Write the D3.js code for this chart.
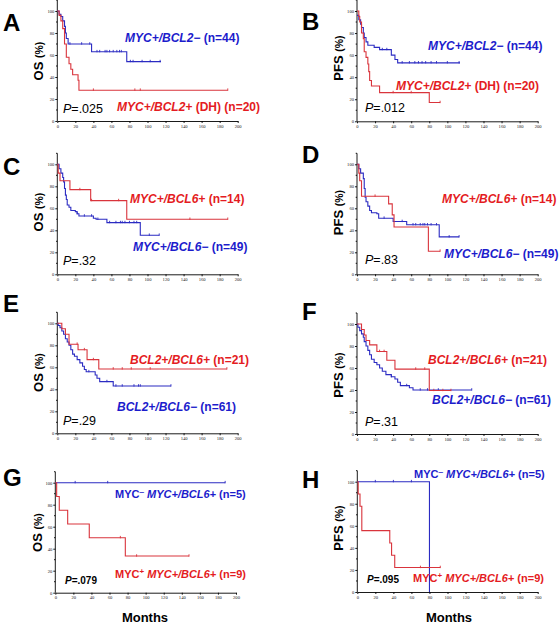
<!DOCTYPE html>
<html><head><meta charset="utf-8">
<script src="https://cdn.jsdelivr.net/npm/d3@7"></script>
<style>body{margin:0;background:#fff}svg{display:block}</style>
</head><body><svg id="c" width="559" height="624"></svg>
<script>
// ---------- tick labels ----------
const monthTicks = d3.range(0, 201, 20);
const pctTicks = [0, 20, 40, 60, 80, 100];
const pctMinor = [10, 30, 50, 70, 90, 110];

// ---------- series: [month, survival %] steps, end month, censor months ----------
const A_blue = [[0,100],[2,97],[4,95],[6,91],[8,86],[9,80],[10,75],[12,70],[38,63],[77,54]];
const A_blue_end = 115;
const A_blue_cens = [14,27,36,44,47,53,55,58,62,66,69,71,81,84,94,103,114];
const A_red = [[0,100],[2,96],[4,91],[6,84],[8,70],[10,58],[13,52],[15,47],[17,42],[23,37],[24,28]];
const A_red_end = 189;
const A_red_cens = [40,86,92,189];

const B_blue = [[0,96],[2,92],[4,88],[5,85],[7,80],[8,76],[10,72],[12,69],[19,67],[25,65],[38,60],[42,56],[45,53]];
const B_blue_end = 114;
const B_blue_cens = [28,33,50,58,64,68,72,76,82,88,100,113];
const B_red = [[0,100],[2,95],[3,90],[5,80],[7,75],[8,63],[10,58],[12,52],[13,45],[14,37],[16,32],[25,26],[80,17]];
const B_red_end = 92;
const B_red_cens = [40,60,92];

const C_red = [[0,100],[1,92],[3,85],[14,77],[37,67],[77,50]];
const C_red_end = 189;
const C_red_cens = [25,38,68,147,189];
const C_blue = [[0,100],[2,96],[4,92],[6,88],[7,84],[8,78],[9,72],[10,68],[11,63],[13,61],[15,58],[20,57],[22,55],[24,53],[40,51],[43,50],[55,47],[92,35.5]];
const C_blue_end = 113;
const C_blue_cens = [22,30,38,45,58,65,70,72,75,80,85,88,102,113];

const D_red = [[0,100],[2,92],[3,85],[5,71],[35,64],[39,54],[41,43],[79,21]];
const D_red_end = 92;
const D_red_cens = [20,92];
const D_blue = [[0,100],[2,96],[4,92],[7,87],[8,78],[9,70],[10,66],[12,62],[14,58],[16,56],[22,55],[24,51],[40,48],[55,45],[91,34]];
const D_blue_end = 113;
const D_blue_cens = [30,50,62,65,70,73,75,78,82,88,102,113];

const E_red = [[0,100],[5,95],[9,90],[13,81],[23,76],[33,67],[46,58.5]];
const E_red_end = 188;
const E_red_cens = [22,30,40,62,72,82,103,188];
const E_blue = [[0,100],[1,98],[3,96],[5,93],[7,90],[9,86],[11,83],[13,80],[15,76],[17,72],[19,70],[22,67],[25,64],[28,61],[30,58],[32,56],[42,53],[44,50],[47,47],[62,43]];
const E_blue_end = 126;
const E_blue_cens = [35,55,65,72,85,90,92,126];

const F_red = [[0,100],[5,95],[8,90],[10,85],[14,81],[22,75],[33,67],[42,59],[80,39.5]];
const F_red_end = 104;
const F_red_cens = [25,30,65,75,85,95,104];
const F_blue = [[0,100],[1,97],[3,94],[5,91],[7,88],[8,84],[10,80],[12,76],[14,72],[16,68],[19,65],[22,63],[25,60],[28,57],[32,54],[38,52],[42,50],[45,47],[48,44],[58,42],[62,40]];
const F_blue_end = 127;
const F_blue_cens = [38,55,70,78,90,127];

const G_blue = [[0,100]];
const G_blue_end = 188;
const G_blue_cens = [22,58,188];
const G_red = [[0,100],[1.5,87.5],[4.4,75],[13.7,62.5],[37.6,50],[77.5,33.3]];
const G_red_end = 148;
const G_red_cens = [72,90,148];

const H_blue = [[0,100],[80,0]];
const H_blue_end = 80;
const H_blue_cens = [20,40,60];
const H_red = [[0,100],[1,88.9],[3,77.8],[5,55.6],[36,44.4],[38,33.3],[41.5,22.2]];
const H_red_end = 92;
const H_red_cens = [70,92];

// ---------- colours ----------
const BLUE_LINE = "#2b2bc2", RED_LINE = "#d9343c";
const BLUE_TXT = "#1c1ccc", RED_TXT = "#e41b22";

// ---------- layout ----------
const panels = [
  {letter:"A", lx:3, ly:31, px:[57.3,237.7], py:[121,11], yt:"OS", ytx:43, yty:61,
   curves:[[A_blue,A_blue_end,A_blue_cens,BLUE_LINE],[A_red,A_red_end,A_red_cens,RED_LINE]],
   labels:[{x:125,y:42,c:BLUE_TXT,parts:[["MYC+/BCL2\u2212","i"],[" (n=44)",""]]},
           {x:117,y:111,c:RED_TXT,parts:[["MYC+/BCL2+","i"],[" (DH) (n=20)",""]]}],
   p:{x:63,y:113,t:"=.025"}},
  {letter:"B", lx:302, ly:30, px:[357,537.7], py:[121.3,11], yt:"PFS", ytx:343, yty:58,
   curves:[[B_blue,B_blue_end,B_blue_cens,BLUE_LINE],[B_red,B_red_end,B_red_cens,RED_LINE]],
   labels:[{x:428,y:50,c:BLUE_TXT,parts:[["MYC+/BCL2\u2212","i"],[" (n=44)",""]]},
           {x:396,y:90,c:RED_TXT,parts:[["MYC+/BCL2+","i"],[" (DH) (n=20)",""]]}],
   p:{x:365,y:112,t:"=.012"}},
  {letter:"C", lx:3, ly:175, px:[57.3,237.7], py:[274.3,164.3], yt:"OS", ytx:43, yty:212,
   curves:[[C_blue,C_blue_end,C_blue_cens,BLUE_LINE],[C_red,C_red_end,C_red_cens,RED_LINE]],
   labels:[{x:130,y:203,c:RED_TXT,parts:[["MYC+/BCL6+","i"],[" (n=14)",""]]},
           {x:133,y:251,c:BLUE_TXT,parts:[["MYC+/BCL6\u2212","i"],[" (n=49)",""]]}],
   p:{x:63,y:265,t:"=.32"}},
  {letter:"D", lx:302, ly:163, px:[357,537.7], py:[274.3,164.3], yt:"PFS", ytx:343, yty:212.5,
   curves:[[D_blue,D_blue_end,D_blue_cens,BLUE_LINE],[D_red,D_red_end,D_red_cens,RED_LINE]],
   labels:[{x:442,y:203,c:RED_TXT,parts:[["MYC+/BCL6+","i"],[" (n=14)",""]]},
           {x:444,y:258,c:BLUE_TXT,parts:[["MYC+/BCL6\u2212","i"],[" (n=49)",""]]}],
   p:{x:365,y:264,t:"=.83"}},
  {letter:"E", lx:3, ly:312, px:[57.3,237.7], py:[433.3,323.3], yt:"OS", ytx:43, yty:372.5,
   curves:[[E_blue,E_blue_end,E_blue_cens,BLUE_LINE],[E_red,E_red_end,E_red_cens,RED_LINE]],
   labels:[{x:130,y:364,c:RED_TXT,parts:[["BCL2+/BCL6+","i"],[" (n=21)",""]]},
           {x:117,y:411,c:BLUE_TXT,parts:[["BCL2+/BCL6\u2212","i"],[" (n=61)",""]]}],
   p:{x:63,y:425,t:"=.29"}},
  {letter:"F", lx:302, ly:320, px:[357,537.7], py:[434,324], yt:"PFS", ytx:343, yty:375,
   curves:[[F_blue,F_blue_end,F_blue_cens,BLUE_LINE],[F_red,F_red_end,F_red_cens,RED_LINE]],
   labels:[{x:428,y:364,c:RED_TXT,parts:[["BCL2+/BCL6+","i"],[" (n=21)",""]]},
           {x:432,y:404,c:BLUE_TXT,parts:[["BCL2+/BCL6\u2212","i"],[" (n=61)",""]]}],
   p:{x:365,y:426,t:"=.31"}},
  {letter:"G", lx:3, ly:486, px:[55.3,236], py:[592.7,482.7], yt:"OS", ytx:41.5, yty:532.5, months:145,
   curves:[[G_blue,G_blue_end,G_blue_cens,BLUE_LINE],[G_red,G_red_end,G_red_cens,RED_LINE]],
   labels:[{x:115,y:498,c:BLUE_TXT,small:true,sup:"\u2012",parts:[["MYC",""],["SUP",""],[" MYC+/BCL6+","i"],[" (n=5)",""]]},
           {x:115,y:578,c:RED_TXT,small:true,sup:"+",parts:[["MYC",""],["SUP",""],[" MYC+/BCL6+","i"],[" (n=9)",""]]}],
   p:{x:65,y:584,t:"=.079",small:true}},
  {letter:"H", lx:302, ly:488, px:[357.3,537.7], py:[592,481.7], yt:"PFS", ytx:343, yty:528, months:449,
   curves:[[H_blue,H_blue_end,H_blue_cens,BLUE_LINE],[H_red,H_red_end,H_red_cens,RED_LINE]],
   labels:[{x:414,y:478,c:BLUE_TXT,small:true,sup:"\u2012",parts:[["MYC",""],["SUP",""],[" MYC+/BCL6+","i"],[" (n=5)",""]]},
           {x:413,y:582,c:RED_TXT,small:true,sup:"+",parts:[["MYC",""],["SUP",""],[" MYC+/BCL6+","i"],[" (n=9)",""]]}],
   p:{x:367,y:583,t:"=.095",small:true}}
];

const svg = d3.select("#c");
const FONT = "'Liberation Sans', Arial, sans-serif";

function survAt(steps, t){
  let v = steps[0][1];
  for (const s of steps) if (s[0] <= t) v = s[1];
  return v;
}

panels.forEach(P => {
  const x = d3.scaleLinear().domain([0,200]).range(P.px);
  const y = d3.scaleLinear().domain([0,100]).range(P.py);
  const g = svg.append("g");

  // letter
  g.append("text").attr("x",P.lx).attr("y",P.ly).text(P.letter)
    .attr("font-family",FONT).attr("font-weight","bold").attr("font-size",24).attr("fill","#000");

  // axes
  const xa = g.append("g").attr("transform",`translate(0,${y(0)})`)
    .call(d3.axisBottom(x).tickValues(monthTicks).tickSize(2).tickSizeOuter(0).tickPadding(1.5));
  const ya = g.append("g").attr("transform",`translate(${x(0)},0)`)
    .call(d3.axisLeft(y).tickValues(pctTicks).tickSize(2).tickSizeOuter(0).tickPadding(1));
  ya.select(".domain").attr("d",`M0,${y(0)}V${y(110)}`);
  ya.selectAll(".minor").data(pctMinor).enter().append("line").attr("class","minor")
    .attr("x1",-1.3).attr("x2",0).attr("y1",d=>y(d)).attr("y2",d=>y(d)).attr("stroke","#000").attr("stroke-width",0.8);
  [xa,ya].forEach(a=>{
    a.selectAll("path,line").attr("stroke","#000").attr("stroke-width",0.9);
    a.selectAll("text").attr("font-family","'Liberation Serif', serif").attr("font-size",4.6).attr("fill","#222");
  });

  // y title
  const yt = g.append("text").attr("transform",`translate(${P.ytx},${P.yty}) rotate(-90)`)
    .attr("text-anchor","middle").attr("font-family",FONT).attr("font-weight","bold").attr("fill","#000");
  yt.append("tspan").attr("font-size",13).text(P.yt + " ");
  yt.append("tspan").attr("font-size",10.5).text("(%)");

  if (P.months) {
    g.append("text").attr("x",P.months).attr("y",622).attr("text-anchor","middle")
      .attr("font-family",FONT).attr("font-weight","bold").attr("font-size",13).text("Months");
  }

  // curves
  const line = d3.line().x(d=>x(d[0])).y(d=>y(d[1])).curve(d3.curveStepAfter);
  P.curves.forEach(([steps,end,cens,col]) => {
    const pts = steps.concat([[end, steps[steps.length-1][1]]]);
    g.append("path").attr("d",line(pts)).attr("fill","none").attr("stroke",col).attr("stroke-width",1.1);
    g.selectAll(null).data(cens).enter().append("line")
      .attr("x1",d=>x(d)).attr("x2",d=>x(d))
      .attr("y1",d=>y(survAt(steps,d))-1.8).attr("y2",d=>y(survAt(steps,d))+0.6)
      .attr("stroke",col).attr("stroke-width",0.9);
  });

  // labels
  P.labels.forEach(L => {
    const fs = L.small ? 11 : 12;
    const t = g.append("text").attr("x",L.x).attr("y",L.y).attr("fill",L.c)
      .attr("font-family",FONT).attr("font-weight","bold").attr("font-size",fs);
    L.parts.forEach(([s,st]) => {
      if (s === "SUP") {
        t.append("tspan").attr("font-size",8).attr("dy",-4).text(L.sup);
        return;
      }
      const ts = t.append("tspan").text(s);
      if (st === "i") ts.attr("font-style","italic");
      if (L.parts[0][0]==="MYC" && s.startsWith(" MYC")) ts.attr("dy",4);
    });
  });

  // P value
  const pt = g.append("text").attr("x",P.p.x).attr("y",P.p.y).attr("fill","#000")
    .attr("font-family",FONT).attr("font-size",P.p.small?10:12.5)
    .attr("font-weight",P.p.small?"bold":"normal");
  pt.append("tspan").attr("font-style","italic").text("P");
  pt.append("tspan").text(P.p.t);
});
</script>
</body></html>
